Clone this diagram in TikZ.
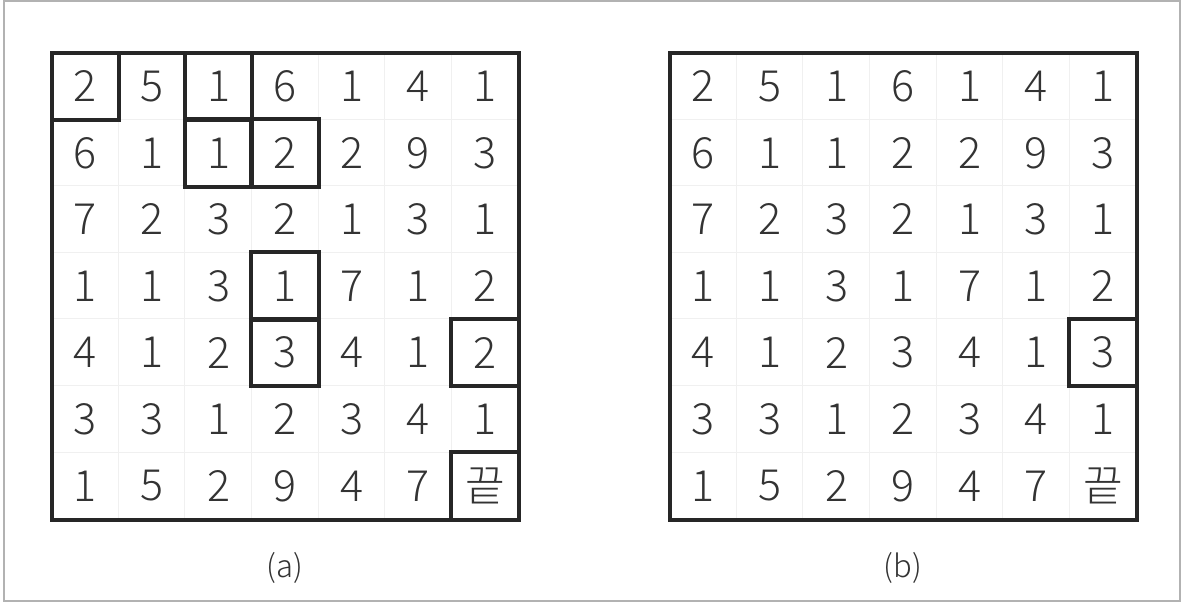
\documentclass[tikz,border=0pt]{standalone}
\usepackage{fontspec}
\setmainfont{Noto Sans CJK KR}[UprightFont={* Light}]
\usetikzlibrary{positioning}

\begin{document}
\begin{tikzpicture}[x=0.5pt,y=-0.5pt,
                    every node/.style={minimum size=33.3pt,inner sep=0pt,text=black!80,
                                       font=\fontsize{21.5}{21.5}\selectfont},
                    frame/.style={draw=black!85,line width=2pt},
                    hit/.style={draw=black!85,line width=2pt}]

\useasboundingbox (0,0) rectangle (1182,608);
\draw[black!30,line width=1pt] (4,1) rectangle (1180,601);

% grid (a)
\foreach \row [count=\r from 0] in {{2,5,1,6,1,4,1},{6,1,1,2,2,9,3},{7,2,3,2,1,3,1},
    {1,1,3,1,7,1,2},{4,1,2,3,4,1,2},{3,3,1,2,3,4,1},{1,5,2,9,4,7,끝}}
  \foreach \v [count=\c from 0] in \row
    \node (a-\r-\c) at ({52+66.6*(\c+0.5)},{53+66.6*(\r+0.5)}) {\v};

% grid (b)
\foreach \row [count=\r from 0] in {{2,5,1,6,1,4,1},{6,1,1,2,2,9,3},{7,2,3,2,1,3,1},
    {1,1,3,1,7,1,2},{4,1,2,3,4,1,3},{3,3,1,2,3,4,1},{1,5,2,9,4,7,끝}}
  \foreach \v [count=\c from 0] in \row
    \node (b-\r-\c) at ({670+66.6*(\c+0.5)},{53+66.6*(\r+0.5)}) {\v};

% faint cell lines
\foreach \g in {a,b}
  \foreach \i in {1,...,6} {
    \draw[black!6,line width=0.5pt] (\g-0-\i.north west) -- (\g-6-\i.south west);
    \draw[black!6,line width=0.5pt] (\g-\i-0.north west) -- (\g-\i-6.north east);
  }

% visited cells
\foreach \n in {a-0-0,a-0-2,a-1-2,a-1-3,a-3-3,a-4-3,a-4-6,a-6-6,b-4-6}
  \draw[hit] (\n.north west) rectangle (\n.south east);

\draw[frame] (a-0-0.north west) rectangle (a-6-6.south east);
\draw[frame] (b-0-0.north west) rectangle (b-6-6.south east);

\node[font=\fontsize{15.5}{15.5}\selectfont,minimum size=0pt] (cap-a) at (285,568) {(a)};
\node[font=\fontsize{15.5}{15.5}\selectfont,minimum size=0pt] (cap-b) at (903,568) {(b)};

\end{tikzpicture}
\end{document}
